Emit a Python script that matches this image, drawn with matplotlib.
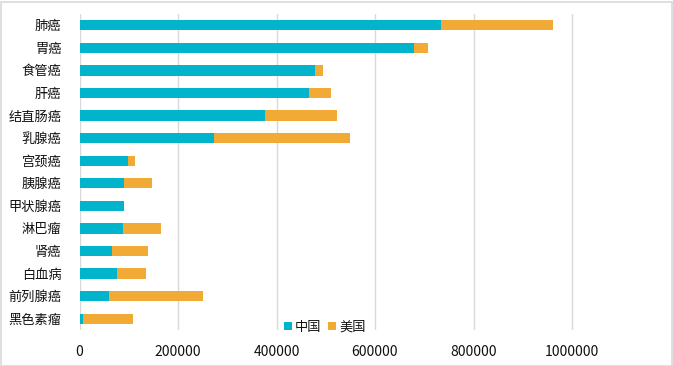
import matplotlib.pyplot as plt
from matplotlib.patches import Rectangle
import numpy as np

plt.rcParams['font.family'] = ['Noto Sans CJK SC', 'DejaVu Sans']

cancers = ['肺癌', '胃癌', '食管癌', '肝癌', '结直肠癌', '乳腺癌', '宫颈癌',
           '胰腺癌', '甲状腺癌', '淋巴瘤', '肾癌', '白血病', '前列腺癌', '黑色素瘤']
china = [733300, 679100, 477900, 466100, 376300, 272400, 98900,
         90100, 90000, 88200, 66800, 75300, 60300, 8000]
usa = [228000, 28000, 17000, 44000, 147000, 277000, 12800,
       58000, 0, 77000, 73000, 60000, 191000, 100000]
ticks = [0, 200000, 400000, 600000, 800000, 1000000]

teal = '#02B3CC'
orange = '#F1AA36'

fig = plt.figure(figsize=(6.73, 3.66), dpi=100)
ax = fig.add_axes([79.5 / 673, 36 / 366, 591 / 673, 316 / 366])

y = np.arange(len(cancers))
ax.barh(y, china, height=0.45, color=teal, label='中国', zorder=3)
ax.barh(y, usa, left=china, height=0.45, color=orange, label='美国', zorder=3)

ax.set_ylim(len(cancers) - 0.5, -0.5)
ax.set_xlim(0, 1200000)
ax.set_yticks(y)
ax.set_yticklabels(cancers, fontsize=9.5)
ax.set_xticks(ticks)
ax.set_xticklabels([str(t) for t in ticks], fontsize=10)
ax.tick_params(axis='both', length=0, colors='#111111')
ax.tick_params(axis='y', pad=13)
ax.tick_params(axis='x', pad=11)
ax.grid(axis='x', color='#D9D9D9', linewidth=1, zorder=0)
for s in ax.spines.values():
    s.set_visible(False)

leg = ax.legend(loc='lower center', bbox_to_anchor=(0.415, -0.05), ncol=2,
                frameon=False, fontsize=9.5, handlelength=0.6, handleheight=0.6,
                handletextpad=0.25, columnspacing=0.5)
for t in leg.get_texts():
    t.set_color('#111111')

fig.patches.append(Rectangle((0.5 / 673, 0.5 / 366), 671.5 / 673, 364 / 366,
                             transform=fig.transFigure, fill=False,
                             edgecolor='#D9D9D9', linewidth=1.2))

fig.savefig('out.png', dpi=100)
